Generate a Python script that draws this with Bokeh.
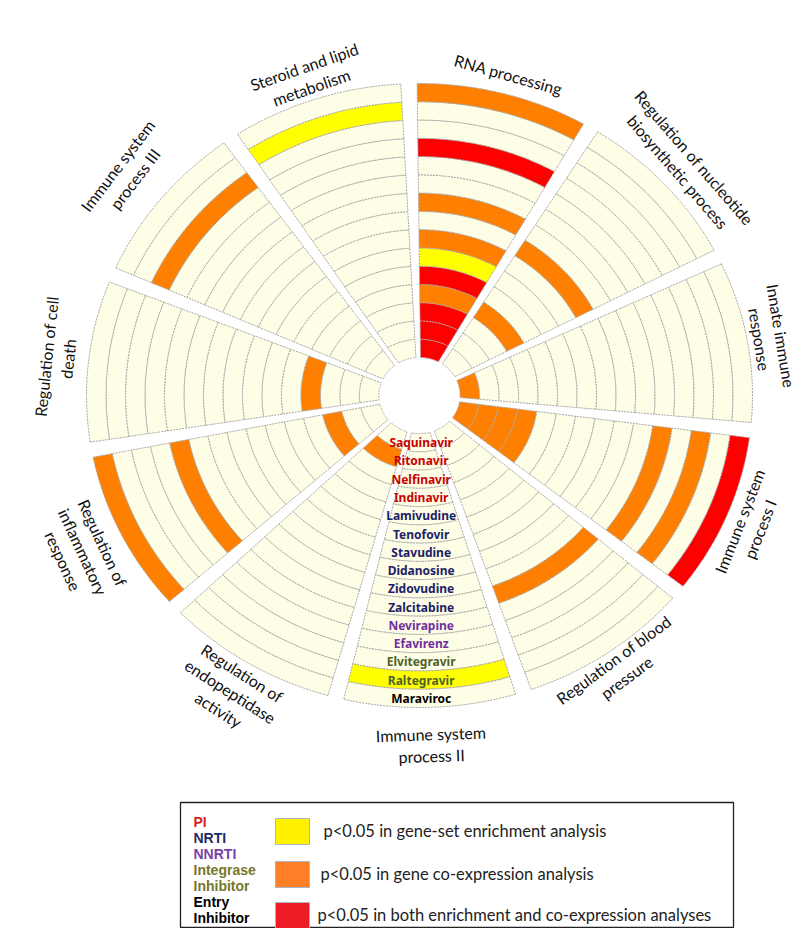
import numpy as np
from bokeh.plotting import figure
from bokeh.models import Range1d
from bokeh.embed import file_html
from bokeh.resources import INLINE
from bokeh.core.properties import value

# ---------------- data ----------------
sector_names = [
    "RNA processing",
    "Regulation of nucleotide\nbiosynthetic process",
    "Innate immune\nresponse",
    "Immune system\nprocess I",
    "Regulation of blood\npressure",
    "Immune system\nprocess II",
    "Regulation of\nendopeptidase\nactivity",
    "Regulation of\ninflammatory\nresponse",
    "Regulation of cell\ndeath",
    "Immune system\nprocess III",
    "Steroid and lipid\nmetabolism",
]

drugs = ["Saquinavir", "Ritonavir", "Nelfinavir", "Indinavir", "Lamivudine",
         "Tenofovir", "Stavudine", "Didanosine", "Zidovudine", "Zalcitabine",
         "Nevirapine", "Efavirenz", "Elvitegravir", "Raltegravir", "Maraviroc"]
drug_classes = ["PI", "PI", "PI", "PI", "NRTI", "NRTI", "NRTI", "NRTI", "NRTI",
                "NRTI", "NNRTI", "NNRTI", "Integrase", "Integrase", "Entry"]

# significance per drug (inner ring = Saquinavir ... outer ring = Maraviroc)
# 0 = none, 1 = gene-set enrichment, 2 = gene co-expression, 3 = both
rna_processing          = [3, 3, 3, 2, 3, 1, 2, 0, 2, 0, 0, 3, 0, 0, 2]
nucleotide_biosynthesis = [0, 0, 0, 2, 0, 0, 0, 2, 0, 0, 0, 0, 0, 0, 0]
innate_immune_response  = [2, 0, 0, 0, 0, 0, 0, 0, 0, 0, 0, 0, 0, 0, 0]
immune_process_i        = [2, 2, 2, 2, 0, 0, 0, 0, 0, 0, 2, 0, 2, 0, 3]
blood_pressure          = [0, 0, 0, 0, 0, 0, 0, 0, 0, 2, 0, 0, 0, 0, 0]
immune_process_ii       = [0, 0, 0, 0, 0, 0, 0, 0, 0, 0, 0, 0, 0, 1, 0]
endopeptidase_activity  = [0, 2, 0, 0, 0, 0, 0, 0, 0, 0, 0, 0, 0, 0, 0]
inflammatory_response   = [0, 0, 2, 0, 0, 0, 0, 0, 0, 0, 2, 0, 0, 0, 2]
cell_death              = [0, 0, 0, 2, 0, 0, 0, 0, 0, 0, 0, 0, 0, 0, 0]
immune_process_iii      = [0, 0, 0, 0, 0, 0, 0, 0, 0, 0, 0, 0, 2, 0, 0]
steroid_lipid           = [0, 0, 0, 0, 0, 0, 0, 0, 0, 0, 0, 0, 0, 1, 0]

significance = [rna_processing, nucleotide_biosynthesis, innate_immune_response,
                immune_process_i, blood_pressure, immune_process_ii,
                endopeptidase_activity, inflammatory_response, cell_death,
                immune_process_iii, steroid_lipid]

legend_class_lines = ["PI", "NRTI", "NNRTI", "Integrase", "Inhibitor", "Entry", "Inhibitor"]
legend_class_keys = ["PI", "NRTI", "NNRTI", "Integrase", "Integrase", "Entry", "Entry"]
legend_texts = ["p<0.05 in gene-set enrichment analysis",
                "p<0.05 in gene co-expression analysis",
                "p<0.05 in both enrichment and co-expression analyses"]

# ---------------- styles ----------------
level_colors = ["#FEFDE6", "#FFFF00", "#FF8000", "#FF0000"]
swatch_colors = ["#FFF200", "#FF7F27", "#ED1C24"]
class_colors = {"PI": "#C80000", "NRTI": "#1B2166", "NNRTI": "#7030A0",
                "Integrase": "#4F6228", "Entry": "#000000"}
legend_class_colors = {"PI": "#D81E1E", "NRTI": "#1F2A66", "NNRTI": "#7B3FA8",
                       "Integrase": "#75772A", "Entry": "#000000"}
label_radius = [1.063, 1.09, 1.07, 1.075, 1.062, 1.12, 1.105, 1.128, 1.095, 1.135, 1.075]

W, H = 800, 928
CX, CY = 419, 395        # centre of the wheel in canvas pixels
SX, SY = 333.0, 312.0    # pixels per unit radius (horizontal, vertical)

p = figure(width=W, height=H, output_backend="svg", toolbar_location=None,
           x_range=Range1d(-CX / SX, (W - CX) / SX),
           y_range=Range1d(-(H - CY) / SY, CY / SY),
           x_axis_type=None, y_axis_type=None, min_border=0)
p.grid.visible = False
p.outline_line_color = None
p.background_fill_color = "white"

n_sec = len(sector_names)
n_ring = len(drugs)
R_IN, R_OUT = 0.122, 1.0
dr = (R_OUT - R_IN) / n_ring
step = 2 * np.pi / n_sec
first_center = np.deg2rad(75.45)


def half_gap(r):
    return 0.020 + 0.0045 / r


xs, ys, fills = [], [], []
for k, vals in enumerate(significance):
    a_hi = first_center - k * step + step / 2
    a_lo = a_hi - step
    for i, v in enumerate(vals):
        r0 = R_IN + i * dr
        r1 = r0 + dr
        ao = np.linspace(a_hi - half_gap(r1), a_lo + half_gap(r1), 40)
        ai = np.linspace(a_lo + half_gap(r0), a_hi - half_gap(r0), 40)
        px = np.concatenate([r1 * np.cos(ao), r0 * np.cos(ai)])
        py = np.concatenate([r1 * np.sin(ao), r0 * np.sin(ai)])
        xs.append(px.tolist())
        ys.append(py.tolist())
        fills.append(level_colors[v])

p.patches(xs, ys, fill_color=fills, line_color="#A8A8A8", line_width=1,
          line_dash="2 1")

# sector labels
for k, name in enumerate(sector_names):
    th = first_center - k * step
    r = label_radius[k]
    x, y = r * np.cos(th), r * np.sin(th)
    phi = np.degrees(np.arctan2(SY * np.sin(th), SX * np.cos(th)))
    rot = phi - 90 if np.sin(th) > 0 else phi + 90
    p.text(x=[x], y=[y], text=[name], angle=[rot], angle_units="deg",
           text_align="center", text_baseline="middle",
           text_font=value("Lato"), text_font_size="16px",
           text_color="#111111", text_line_height=1.15)

# drug labels down the Immune system process II sector
ring_mid = [-(R_IN + (i + 0.5) * dr) for i in range(n_ring)]
p.text(x=[0.005] * n_ring, y=ring_mid, text=drugs,
       text_color=[class_colors[c] for c in drug_classes],
       text_align="center", text_baseline="middle",
       text_font=value("Noto Sans"), text_font_style="bold",
       text_font_size="12px")


# ---------------- legend (page pixel layout) ----------------
def X(px):
    return (px - CX) / SX


def Y(py):
    return (CY - py) / SY


p.quad(left=[X(180)], right=[X(733)], top=[Y(802)], bottom=[Y(927)],
       fill_color="white", line_color="#222222", line_width=1.3)

p.text(x=[X(193)] * len(legend_class_lines),
       y=[Y(821 + 16 * j) for j in range(len(legend_class_lines))],
       text=legend_class_lines,
       text_color=[legend_class_colors[c] for c in legend_class_keys],
       text_baseline="middle", text_align="left",
       text_font=value("Liberation Sans"), text_font_style="bold",
       text_font_size="14px")

sw_top = [818, 861, 902]
p.quad(left=[X(275)] * 3, right=[X(309)] * 3,
       top=[Y(t) for t in sw_top], bottom=[Y(t + 26) for t in sw_top],
       fill_color=swatch_colors, line_color="#A9B4C6", line_width=1)
p.text(x=[X(323), X(320), X(317)], y=[Y(t + 12) for t in sw_top],
       text=legend_texts, text_baseline="middle", text_align="left",
       text_font=value("Lato"), text_font_size="16.5px", text_color="#222222")

open("out.html", "w").write(file_html(p, INLINE))
